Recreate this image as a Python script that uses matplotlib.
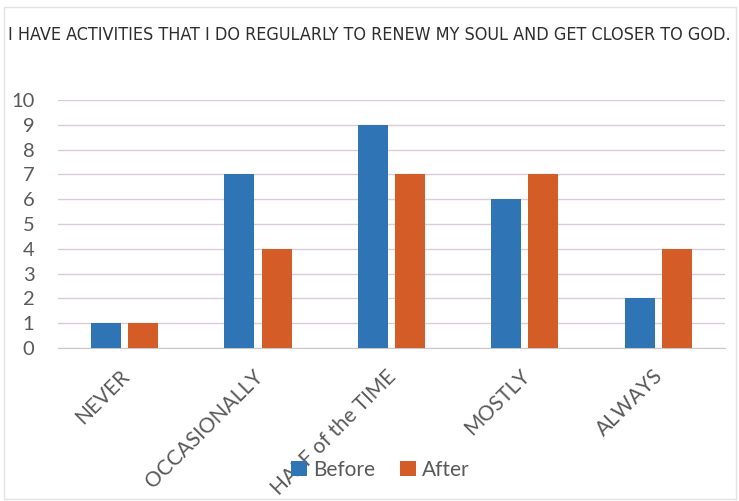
import numpy as np
import matplotlib
matplotlib.use("Agg")
from matplotlib import pyplot as plt
from matplotlib.patches import Rectangle

categories = ["NEVER", "OCCASIONALLY", "HALF of the TIME", "MOSTLY", "ALWAYS"]
before = [1, 7, 9, 6, 2]
after = [1, 4, 7, 7, 4]
title = "I HAVE ACTIVITIES THAT I DO REGULARLY TO RENEW MY SOUL AND GET CLOSER TO GOD."

blue = "#2F75B6"
orange = "#D35C27"
grey = "#595959"
font = ["Lato", "Open Sans", "DejaVu Sans"]

fig = plt.figure(figsize=(7.39, 5.01), dpi=100)
ax = fig.add_axes([0.0785, 0.3054, 0.9025, 0.495])

# light chart border
fig.patches.append(Rectangle((0.006, 0.004), 0.99, 0.982, transform=fig.transFigure,
                             fill=False, edgecolor="#E2E2E2", linewidth=1))

x = np.arange(len(categories))
w = 0.225
ax.bar(x - w / 2 - 0.027, before, w, color=blue, label="Before", zorder=3)
ax.bar(x + w / 2 + 0.027, after, w, color=orange, label="After", zorder=3)

ax.set_xlim(-0.5, len(categories) - 0.5)
ax.set_ylim(0, 10)
ax.set_yticks(range(0, 11))
ax.grid(axis="y", color="#DCC9DA", linewidth=1, zorder=0)
for s in ["top", "right", "left"]:
    ax.spines[s].set_visible(False)
ax.spines["bottom"].set_color("#C8C8C8")
ax.tick_params(axis="both", length=0, colors=grey)
ax.tick_params(axis="y", labelsize=14.5, pad=17)
for lab in ax.get_yticklabels():
    lab.set_family(font)

ax.set_xticks(x - 0.04)
ax.set_xticklabels(categories, rotation=45, ha="right", va="top", rotation_mode="anchor",
                   fontsize=15, color=grey, family=font)
ax.tick_params(axis="x", pad=13)

t = fig.text(0.011, 0.93, title, fontsize=16, color="#2E2E2E",
             family=["DejaVu Sans"], fontstretch="condensed", va="center", ha="left")
# shrink the title until it fits the chart width
fig.canvas.draw()
r = fig.canvas.get_renderer()
wpx = t.get_window_extent(r).width
if wpx > 727:
    t.set_fontsize(16 * 727 / wpx)

fig.legend(loc="center", bbox_to_anchor=(0.515, 0.062), ncol=2, frameon=False,
           handlelength=0.75, handleheight=0.75, handletextpad=0.3,
           columnspacing=1.2, prop={"family": font, "size": 15},
           labelcolor=grey)

fig.savefig("out.png", dpi=100)
